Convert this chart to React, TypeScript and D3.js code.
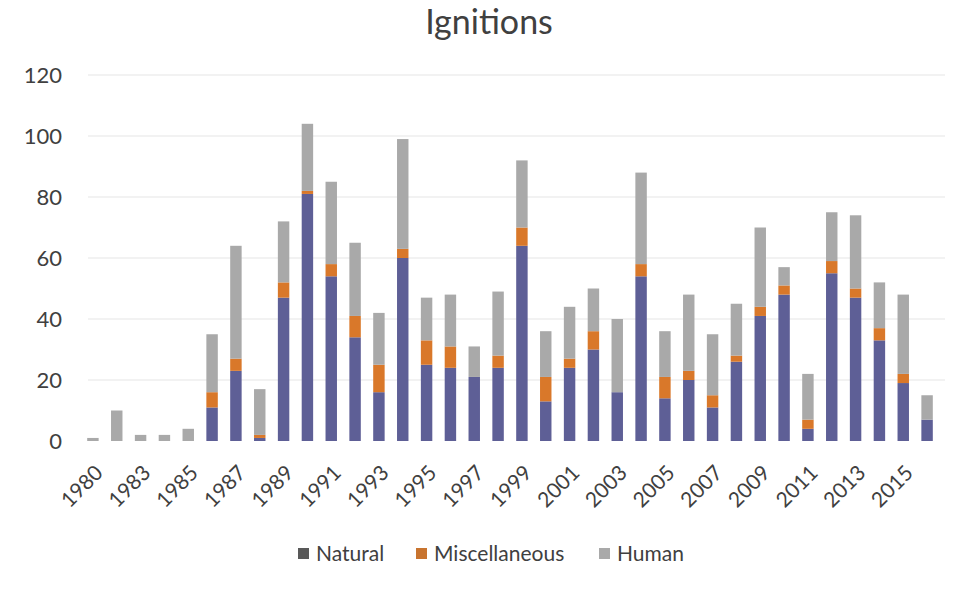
import React, { useEffect, useRef } from 'react';
import * as d3 from 'd3';

const years = [
  '1980', '1982', '1983', '1984', '1985', '1986', '1987', '1988', '1989', '1990',
  '1991', '1992', '1993', '1994', '1995', '1996', '1997', '1998', '1999', '2000',
  '2001', '2002', '2003', '2004', '2005', '2006', '2007', '2008', '2009', '2010',
  '2011', '2012', '2013', '2014', '2015', '2016',
];

const natural = [
  0, 0, 0, 0, 0, 11, 23, 1, 47, 81,
  54, 34, 16, 60, 25, 24, 21, 24, 64, 13,
  24, 30, 16, 54, 14, 20, 11, 26, 41, 48,
  4, 55, 47, 33, 19, 7,
];

const misc = [
  0, 0, 0, 0, 0, 5, 4, 1, 5, 1,
  4, 7, 9, 3, 8, 7, 0, 4, 6, 8,
  3, 6, 0, 4, 7, 3, 4, 2, 3, 3,
  3, 4, 3, 4, 3, 0,
];

const human = [
  1, 10, 2, 2, 4, 19, 37, 15, 20, 22,
  27, 24, 17, 36, 14, 17, 10, 21, 22, 15,
  17, 14, 24, 30, 15, 25, 20, 17, 26, 6,
  15, 16, 24, 15, 26, 8,
];

const yTicks = [0, 20, 40, 60, 80, 100, 120];

const seriesNames = ['Natural', 'Miscellaneous', 'Human'];
const seriesColors = ['#5e5f96', '#d9782a', '#a9a9a9'];
const legendColors = ['#595959', '#c8742f', '#a9a9a9'];

export default function App() {
  const svgRef = useRef<SVGSVGElement>(null);
  const width = 968;
  const height = 592;

  useEffect(() => {
    const svg = d3.select(svgRef.current);
    svg.selectAll('*').remove();

    const font = 'Lato, "Open Sans", sans-serif';

    const x = d3.scaleBand<string>()
      .domain(years)
      .range([81, 939])
      .paddingInner(0.52)
      .paddingOuter(0.26);

    const y = d3.scaleLinear().domain([0, 120]).range([441, 75]);

    svg.append('rect')
      .attr('width', width)
      .attr('height', height)
      .attr('fill', '#ffffff');

    // Title
    svg.append('text')
      .attr('x', 489)
      .attr('y', 34)
      .attr('text-anchor', 'middle')
      .style('font-family', font)
      .style('font-size', '34px')
      .style('fill', '#404040')
      .text('Ignitions');

    // Gridlines
    svg.append('g')
      .selectAll('line')
      .data(yTicks.filter(d => d > 0))
      .enter()
      .append('line')
      .attr('x1', 88)
      .attr('x2', 945)
      .attr('y1', d => y(d))
      .attr('y2', d => y(d))
      .attr('stroke', '#f2f2f2')
      .attr('stroke-width', 2);

    // Y tick labels
    svg.append('g')
      .selectAll('text')
      .data(yTicks)
      .enter()
      .append('text')
      .attr('x', 62)
      .attr('y', d => y(d))
      .attr('dy', '0.35em')
      .attr('text-anchor', 'end')
      .style('font-family', font)
      .style('font-size', '22px')
      .style('fill', '#404040')
      .text(d => d);

    // Stacked bars
    const rows = years.map((yr, i) => ({
      year: yr,
      Natural: natural[i],
      Miscellaneous: misc[i],
      Human: human[i],
    }));

    const stack = d3.stack<any>().keys(seriesNames);
    const layers = stack(rows);

    svg.append('g')
      .selectAll('g')
      .data(layers)
      .enter()
      .append('g')
      .attr('fill', (_, i) => seriesColors[i])
      .selectAll('rect')
      .data(d => d)
      .enter()
      .append('rect')
      .attr('x', d => x(d.data.year) as number)
      .attr('width', x.bandwidth())
      .attr('y', d => y(d[1]))
      .attr('height', d => Math.max(0, y(d[0]) - y(d[1])));

    // X labels (every other category)
    svg.append('g')
      .selectAll('text')
      .data(years.filter((_, i) => i % 2 === 0))
      .enter()
      .append('text')
      .attr('transform', d => `translate(${(x(d) as number) + x.bandwidth() / 2 + 6}, 469) rotate(-45)`)
      .attr('text-anchor', 'end')
      .attr('dy', '0.35em')
      .style('font-family', font)
      .style('font-size', '21px')
      .style('fill', '#404040')
      .text(d => d);

    // Legend
    const legendItems = [
      { name: 'Natural', x: 298 },
      { name: 'Miscellaneous', x: 416 },
      { name: 'Human', x: 599 },
    ];
    const lg = svg.append('g');
    legendItems.forEach((item, i) => {
      lg.append('rect')
        .attr('x', item.x)
        .attr('y', 548)
        .attr('width', 11)
        .attr('height', 11)
        .attr('fill', legendColors[i]);
      lg.append('text')
        .attr('x', item.x + 18)
        .attr('y', 554)
        .attr('dy', '0.35em')
        .style('font-family', font)
        .style('font-size', '21px')
        .style('fill', '#404040')
        .text(item.name);
    });
  }, []);

  return (
    <div style={{ position: 'absolute', left: 0, top: 0 }}>
      <svg ref={svgRef} width={width} height={height}></svg>
    </div>
  );
}
